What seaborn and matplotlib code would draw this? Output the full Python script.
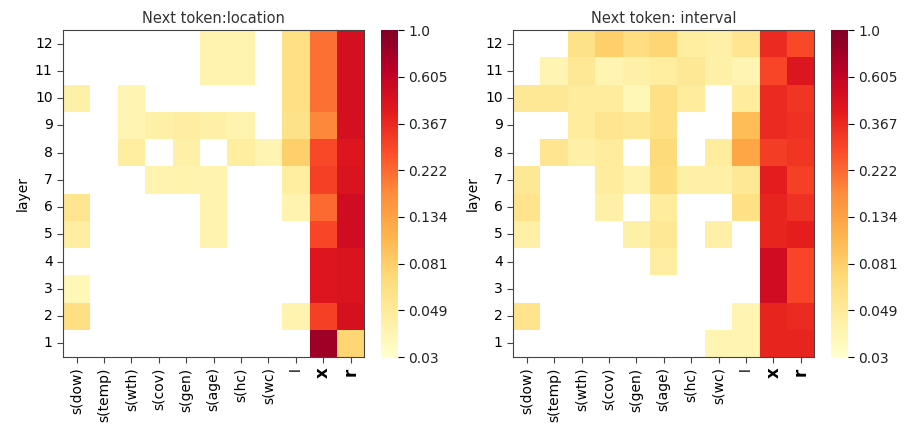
import numpy as np
import pandas as pd
import matplotlib
matplotlib.use("Agg")
import matplotlib.pyplot as plt
import seaborn as sns

features = ['s(dow)', 's(temp)', 's(wth)', 's(cov)', 's(gen)', 's(age)',
            's(hc)', 's(wc)', 'l', 'x', 'r']
layers = [12, 11, 10, 9, 8, 7, 6, 5, 4, 3, 2, 1]

# probabilities, rows = layer 12 .. 1 (0 = below 0.03, shown white)
location = [
    [0,     0, 0,     0,     0,     0.040, 0.040, 0,     0.062, 0.21, 0.50],
    [0,     0, 0,     0,     0,     0.040, 0.040, 0,     0.062, 0.21, 0.50],
    [0.043, 0, 0.039, 0,     0,     0,     0,     0,     0.062, 0.21, 0.50],
    [0,     0, 0.039, 0.043, 0.046, 0.043, 0.040, 0,     0.060, 0.18, 0.50],
    [0,     0, 0.047, 0,     0.043, 0,     0.047, 0.039, 0.080, 0.28, 0.45],
    [0,     0, 0,     0.040, 0.041, 0.040, 0,     0,     0.047, 0.30, 0.46],
    [0.055, 0, 0,     0,     0,     0.040, 0,     0,     0.040, 0.22, 0.52],
    [0.046, 0, 0,     0,     0,     0.040, 0,     0,     0,     0.29, 0.52],
    [0,     0, 0,     0,     0,     0,     0,     0,     0,     0.45, 0.46],
    [0.037, 0, 0,     0,     0,     0,     0,     0,     0,     0.45, 0.46],
    [0.063, 0, 0,     0,     0,     0,     0,     0,     0.040, 0.30, 0.48],
    [0,     0, 0,     0,     0,     0,     0,     0,     0,     0.80, 0.075],
]

interval = [
    [0,     0,     0.060, 0.080, 0.065, 0.074, 0.047, 0.043, 0.055, 0.36, 0.28],
    [0,     0.039, 0.052, 0.039, 0.043, 0.047, 0.052, 0.043, 0.039, 0.29, 0.45],
    [0.052, 0.052, 0.048, 0.048, 0.037, 0.062, 0.048, 0,     0.048, 0.36, 0.33],
    [0,     0,     0.048, 0.056, 0.052, 0.062, 0,     0,     0.100, 0.36, 0.34],
    [0,     0.056, 0.043, 0.048, 0,     0.070, 0,     0.048, 0.130, 0.31, 0.33],
    [0.052, 0,     0,     0.048, 0.040, 0.066, 0.043, 0.043, 0.052, 0.41, 0.30],
    [0.057, 0,     0,     0.043, 0,     0.048, 0,     0,     0.062, 0.38, 0.34],
    [0.043, 0,     0,     0,     0.043, 0.052, 0,     0.043, 0,     0.38, 0.40],
    [0,     0,     0,     0,     0,     0.046, 0,     0,     0,     0.52, 0.29],
    [0,     0,     0,     0,     0,     0,     0,     0,     0,     0.52, 0.29],
    [0.057, 0,     0,     0,     0,     0,     0,     0,     0.039, 0.38, 0.36],
    [0,     0,     0,     0,     0,     0,     0,     0.039, 0.039, 0.38, 0.38],
]

cbar_labels = ['0.03', '0.049', '0.081', '0.134', '0.222', '0.367', '0.605', '1.0']
titles = ['Next token:location', 'Next token: interval']

vmin = np.log(0.03)
cbar_ticks = np.linspace(vmin, 0, len(cbar_labels))

fig = plt.figure(figsize=(9.13, 4.24), dpi=100)
ax_pos = [[0.069, 0.158, 0.330, 0.771], [0.562, 0.158, 0.330, 0.771]]
cb_pos = [[0.417, 0.158, 0.019, 0.771], [0.910, 0.158, 0.019, 0.771]]

for data, title, ap, cp in zip([location, interval], titles, ax_pos, cb_pos):
    df = pd.DataFrame(data, index=layers, columns=features)
    mask = df < 0.03
    logdf = np.log(df.where(~mask, 1.0))
    ax = fig.add_axes(ap)
    cax = fig.add_axes(cp)
    sns.heatmap(logdf, mask=mask, cmap='YlOrRd', vmin=vmin, vmax=0,
                ax=ax, cbar_ax=cax, cbar_kws={'ticks': cbar_ticks})
    cbar = ax.collections[0].colorbar
    cbar.set_ticklabels(cbar_labels)
    cax.tick_params(length=4, labelsize=10, labelcolor='#222222')
    cbar.outline.set_visible(True)
    cbar.outline.set_edgecolor('#555555')
    for s in ax.spines.values():
        s.set_visible(True)
        s.set_color('#444444')
    ax.set_title(title, fontsize=10.5, color='#333333', pad=5)
    ax.set_ylabel('layer', fontsize=10)
    ax.set_yticklabels(layers, rotation=0, fontsize=10)
    ax.set_xticklabels(features, rotation=90, fontsize=10)
    for lab in ax.get_xticklabels():
        if lab.get_text() in ('x', 'r'):
            lab.set_fontweight('bold')
            lab.set_fontsize(12)
    ax.tick_params(length=4, color='#444444')

fig.savefig('out.png', dpi=100)
